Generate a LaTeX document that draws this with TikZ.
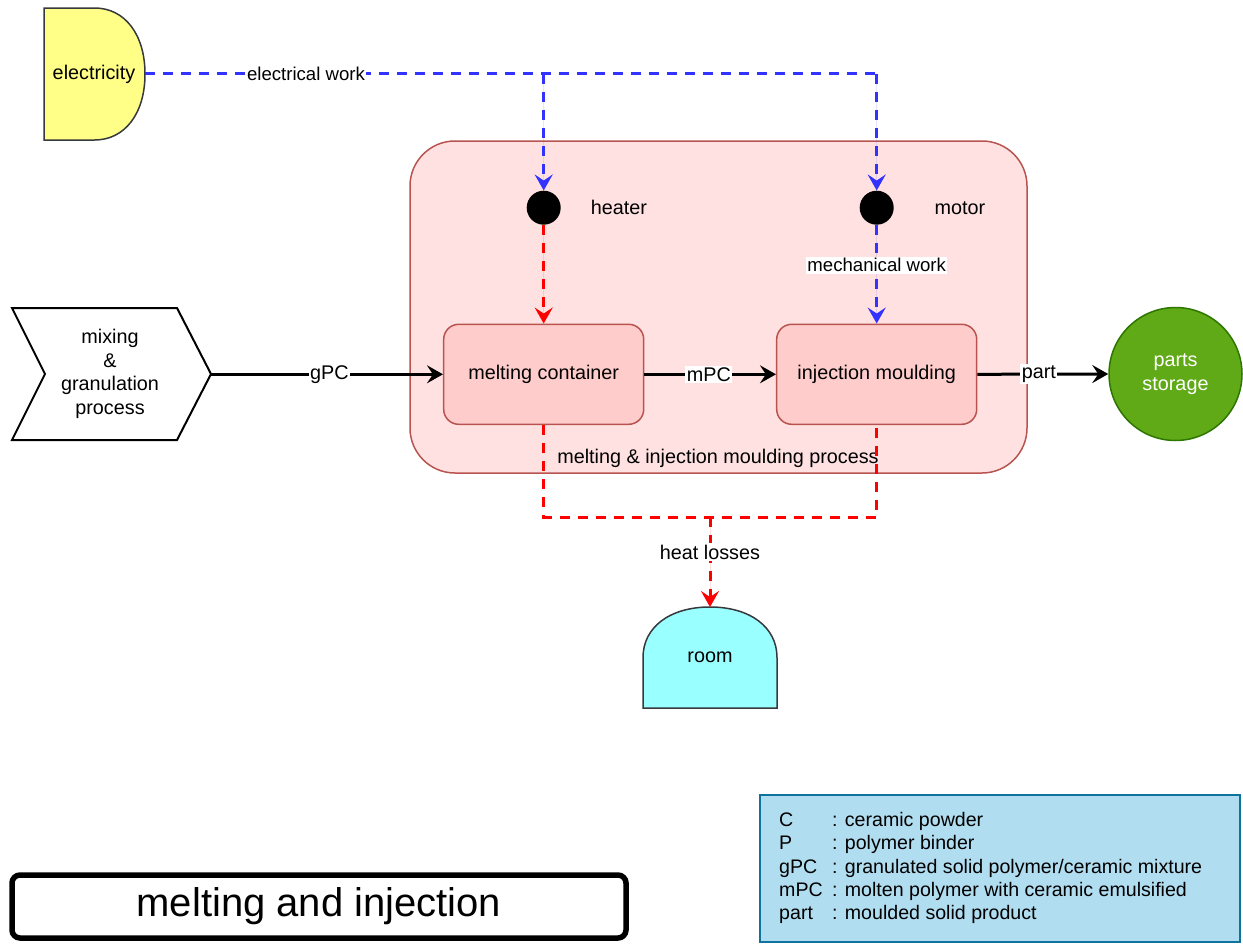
\documentclass[tikz,border=0pt]{standalone}
\usepackage{fontspec}
\setmainfont{Liberation Sans}
\usetikzlibrary{arrows.meta}

\definecolor{elecfill}{HTML}{FFFF88}
\definecolor{roomfill}{HTML}{99FFFF}
\definecolor{shapeedge}{HTML}{36393D}
\definecolor{procfill}{HTML}{FFE1E1}
\definecolor{boxfill}{HTML}{FFCCCC}
\definecolor{boxedge}{HTML}{B85450}
\definecolor{storefill}{HTML}{60A917}
\definecolor{storeedge}{HTML}{2D7600}
\definecolor{elecblue}{HTML}{3333FF}
\definecolor{heatred}{HTML}{FF0000}
\definecolor{legendfill}{HTML}{B1DDF0}
\definecolor{legendedge}{HTML}{10739E}

\begin{document}
\begin{tikzpicture}[x=1pt,y=-1pt,
  every node/.style={font=\fontsize{19.8}{23}\selectfont, inner sep=1.5pt},
  smalltext/.style={font=\fontsize{18.6}{22}\selectfont},
  procbox/.style={draw=boxedge, fill=boxfill, line width=1.5pt, rounded corners=15pt,
                  minimum width=200pt, minimum height=100pt},
  flow/.style={line width=3pt, -{Stealth[length=16pt,width=18pt,inset=6pt]}},
  dashpat/.style={dash pattern=on 10pt off 8pt},
  eflow/.style={flow, draw=elecblue, fill=elecblue, dashpat},
  eline/.style={line width=3pt, draw=elecblue, dashpat},
  hflow/.style={flow, draw=heatred, fill=heatred, dashpat},
  hline/.style={line width=3pt, draw=heatred, dashpat},
  tag/.style={fill=white, inner sep=1.5pt},
  dot/.style={circle, fill=black, minimum size=34pt, inner sep=0pt},
]
\useasboundingbox (0,0) rectangle (1243,945);

% process container
\node[draw=boxedge, fill=procfill, line width=1.5pt, rounded corners=45pt,
      minimum width=617pt, minimum height=332pt] (proc) at (718.5,307) {};
\node (proclabel) at (718,458) {melting \& injection moulding process};

% electricity source
\filldraw[fill=elecfill, draw=shapeedge, line width=1.5pt]
  (44,8) -- (94.5,8) .. controls (124.8,8) and (145,34.4) .. (145,74)
  .. controls (145,113.6) and (124.8,140) .. (94.5,140) -- (44,140) -- cycle;
\node (elec) at (94,74) {electricity};
\coordinate (elecR) at (145,73.5);

% room sink
\filldraw[fill=roomfill, draw=shapeedge, line width=1.5pt]
  (643,708) -- (643,657.5) .. controls (643,627.2) and (669.8,607) .. (710,607)
  .. controls (750.2,607) and (777,627.2) .. (777,657.5) -- (777,708) -- cycle;
\node (room) at (710,657) {room};
\coordinate (roomtop) at (710,607);

% mixing & granulation step
\filldraw[fill=white, draw=black, line width=2pt]
  (12,308) -- (177,308) -- (211,374) -- (177,440) -- (12,440) -- (45,374) -- cycle;
\node[align=center, font=\fontsize{19.8}{23.7}\selectfont] (mix) at (110,374)
  {mixing\\\&\\granulation\\process};
\coordinate (mixtip) at (211,374.3);

% heater and motor
\node[dot] (heater) at (543.7,207.7) {};
\node (heaterlabel) at (619,207.7) {heater};
\node[dot] (motor) at (876.7,207.7) {};
\node (motorlabel) at (960,207.7) {motor};

% process units
\node[procbox] (mc) at (543.7,374.3) {melting container};
\node[procbox] (im) at (876.7,374.3) {injection moulding};

% parts storage
\node[circle, draw=storeedge, fill=storefill, line width=1.5pt, minimum size=133pt,
      inner sep=0pt, text=white, align=center, font=\fontsize{19.8}{24}\selectfont]
  (store) at (1175.5,374) {parts\\storage};

% electrical work distribution
\coordinate (split) at (543.7,73.5);
\coordinate (corner) at (876.7,73.5);
\draw[eline] (elecR) -- (corner);
\draw[eflow] (corner) -- (motor.north);
\draw[eflow] (split) -- (heater.north);
\node[tag, smalltext] (ework) at (306,73.5) {electrical work};

% heat and mechanical work into the units
\draw[hflow] (heater.south) -- (mc.north);
\draw[eflow] (motor.south) -- (im.north)
  node[tag, smalltext, pos=0.41] (mwork) {mechanical work};

% material flow
\draw[flow] (mixtip) -- (mc.west) node[tag, pos=0.51] (lgpc) {gPC};
\draw[flow] (mc.east) -- (im.west) node[tag, pos=0.49] (lmpc) {mPC};
\draw[flow] (im.east) -- (store.west) node[tag, pos=0.47] (lpart) {part};

% heat losses to the room
\coordinate (hl) at (710,517);
\draw[hline] (mc.south) -- (mc.south |- hl) -- (im.south |- hl) -- (im.south);
\draw[hflow] (hl) -- (roomtop) node[tag, pos=0.39] (lheat) {heat losses};

% legend
\node[draw=legendedge, fill=legendfill, line width=1.5pt, minimum width=480pt,
      minimum height=147pt] (legend) at (1000,868.5) {};
\node[anchor=west, inner sep=0pt, font=\fontsize{19.6}{23.3}\selectfont] (legendtext) at (779,868.5)
  {\begin{tabular}{@{}p{53pt}@{}l@{}}
   C & : ceramic powder\\
   P & : polymer binder\\
   gPC & : granulated solid polymer/ceramic mixture\\
   mPC & : molten polymer with ceramic emulsified\\
   part & : moulded solid product
   \end{tabular}};

% title
\node[draw=black, line width=5.5pt, rounded corners=8pt, minimum width=614pt,
      minimum height=63pt, font=\fontsize{40}{46}\selectfont] (title) at (319,906.5)
  {melting and injection};
\end{tikzpicture}
\end{document}
